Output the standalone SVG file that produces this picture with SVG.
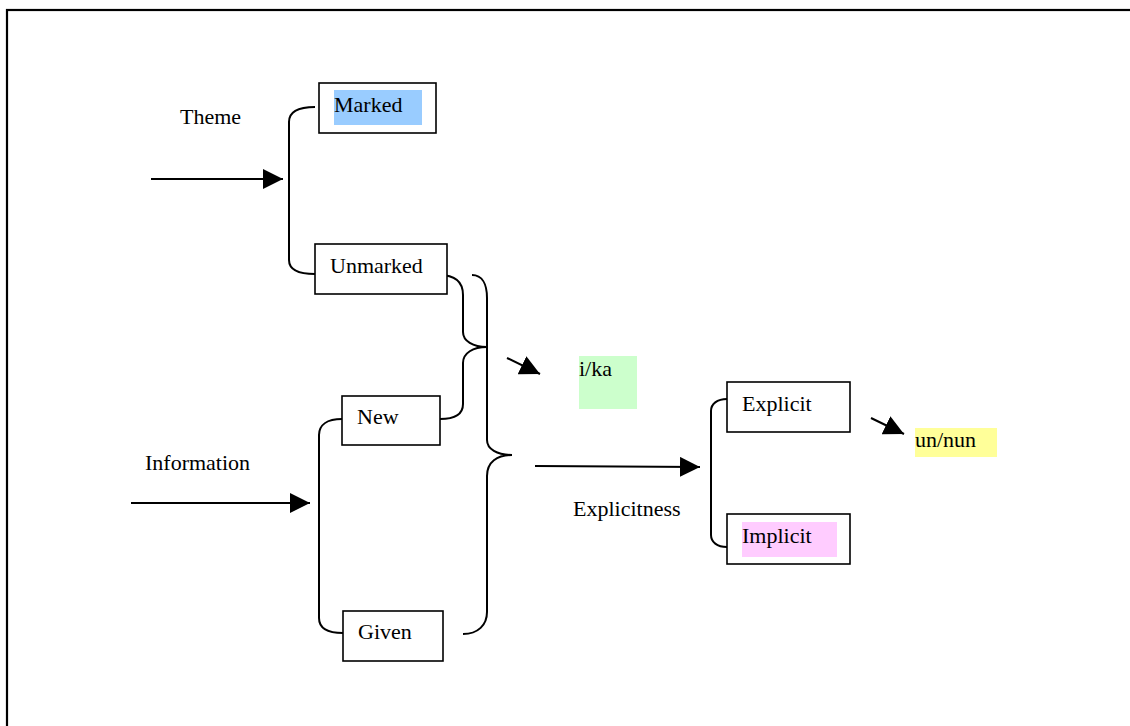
<svg xmlns="http://www.w3.org/2000/svg" width="1130" height="726" viewBox="0 0 1130 726">
<style>
text{font-family:"Liberation Serif","Times New Roman",serif;font-size:22px;fill:#000}
.box{fill:#fff;stroke:#000;stroke-width:1.6}
.ln{fill:none;stroke:#000;stroke-width:2}
</style>
<defs>
<marker id="ah" markerUnits="userSpaceOnUse" markerWidth="22" markerHeight="22" refX="20" refY="10" orient="auto"><path d="M0,0 L20,10 L0,20 z" fill="#000"/></marker>
</defs>
<rect width="1130" height="726" fill="#fff"/>
<rect x="7" y="10" width="1140" height="740" fill="none" stroke="#000" stroke-width="2.2"/>
<g id="labels">
<text x="180" y="124">Theme</text>
<text x="145" y="470">Information</text>
<text x="573" y="516">Explicitness</text>
</g>
<g id="connectors">
<line class="ln" x1="151" y1="179" x2="283" y2="179" marker-end="url(#ah)"/>
<line class="ln" x1="131" y1="503" x2="310" y2="503" marker-end="url(#ah)"/>
<line class="ln" x1="535" y1="466" x2="700" y2="467" marker-end="url(#ah)"/>
<line class="ln" x1="507" y1="358" x2="540" y2="374" marker-end="url(#ah)"/>
<line class="ln" x1="871" y1="418" x2="904" y2="434" marker-end="url(#ah)"/>
<path class="ln" d="M315,107 C298,107 289,112 289,122 V260 C289,270 298,274 315,274"/>
<path class="ln" d="M342,419 C327,419 319,425 319,435 V618 C319,628 327,633 343,633"/>
<path class="ln" d="M727,399 C717,399 711,404 711,411 V535 C711,542 717,547 727,547"/>
<path class="ln" d="M439,275 C455,275 463,282 463,295 V332 C463,341 473,347 487,347 C473,347 463,353 463,363 V404 C463,414 455,419 440,419"/>
<path class="ln" d="M472,275 C482,275 487,284 487,298 V440 C487,449 497,455 512,455 C497,455 487,462 487,476 V612 C487,625 478,634 463,634"/>
</g>
<g id="node-marked">
<rect class="box" x="319" y="83" width="117" height="50"/>
<rect x="334" y="90" width="88" height="35" fill="#99ccff"/>
<text x="334" y="112">Marked</text>
</g>
<g id="node-unmarked">
<rect class="box" x="315" y="244" width="132" height="50"/>
<text x="330" y="273">Unmarked</text>
</g>
<g id="node-new">
<rect class="box" x="342" y="396" width="98" height="49"/>
<text x="357" y="424">New</text>
</g>
<g id="node-given">
<rect class="box" x="343" y="611" width="100" height="50"/>
<text x="358" y="639">Given</text>
</g>
<g id="node-ika">
<rect x="579" y="356" width="58" height="53" fill="#ccffcc"/>
<text x="579" y="376">i/ka</text>
</g>
<g id="node-explicit">
<rect class="box" x="727" y="382" width="123" height="50"/>
<text x="742" y="411">Explicit</text>
</g>
<g id="node-implicit">
<rect class="box" x="727" y="514" width="123" height="50"/>
<rect x="742" y="522" width="95" height="35" fill="#ffccff"/>
<text x="742" y="543">Implicit</text>
</g>
<g id="node-unnun">
<rect x="915" y="428" width="82" height="29" fill="#ffff99"/>
<text x="915" y="447">un/nun</text>
</g>
</svg>
